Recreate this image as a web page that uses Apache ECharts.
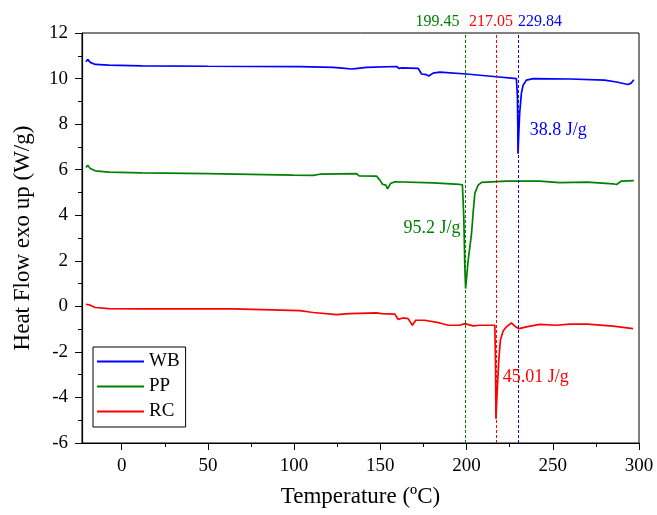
<!DOCTYPE html>
<html>
<head>
<meta charset="utf-8">
<script src="https://cdn.jsdelivr.net/npm/echarts@6/dist/echarts.min.js"></script>
<style>
  html, body { margin: 0; padding: 0; background: #fff; }
  #dsc-chart { width: 657px; height: 515px; }
</style>
</head>
<body>
<div id="dsc-chart"></div>
<script>
// DSC curves, [temperature, heat flow]
let wbData = [[-20.7,10.74],[-19.7,10.84],[-18.2,10.71],[-15.3,10.62],[-7.5,10.59],[11.8,10.56],[50,10.54],[103.4,10.52],[122.6,10.49],[128,10.46],[133.3,10.42],[137,10.45],[142,10.49],[159.4,10.53],[160.9,10.44],[162.3,10.47],[171.9,10.45],[173.9,10.2],[176.8,10.17],[178.1,10.11],[180.6,10.24],[184.5,10.28],[199.9,10.2],[217.3,10.08],[228.9,10.0],[229.5,9.2],[229.7,8.0],[229.84,6.7],[230.3,7.6],[230.8,8.47],[231.8,9.35],[232.8,9.71],[234.7,9.93],[238.6,10.0],[260,9.98],[280,9.93],[287,9.85],[293.6,9.74],[295.5,9.8],[297,9.95]];
let ppData = [[-20.7,6.10],[-19.7,6.19],[-18.2,6.05],[-15.3,5.95],[-7.5,5.89],[11.8,5.86],[50,5.83],[99.4,5.76],[111,5.75],[115,5.80],[136.2,5.83],[137.7,5.73],[147.8,5.72],[149.7,5.54],[151.3,5.36],[153.2,5.32],[154.2,5.16],[155.9,5.39],[158.4,5.47],[180.6,5.42],[196,5.35],[197.6,5.33],[198.4,3.93],[199,1.73],[199.45,0.78],[200.9,2.0],[202.9,3.2],[203.8,4.09],[204.8,4.96],[206.7,5.32],[208.7,5.44],[223,5.5],[242.4,5.5],[254,5.43],[270,5.45],[285,5.38],[287,5.35],[289.8,5.5],[297,5.52]];
let rcData = [[-20.7,0.09],[-19.7,0.17],[-18.2,0.05],[-15.3,-0.05],[-7.5,-0.1],[11.8,-0.11],[64.6,-0.11],[103.4,-0.19],[109,-0.25],[111.1,-0.27],[124.6,-0.36],[132.3,-0.32],[147.8,-0.29],[148.8,-0.36],[150.7,-0.32],[158.4,-0.34],[160.3,-0.57],[163.2,-0.51],[166.1,-0.54],[168.6,-0.83],[170.5,-0.61],[175.7,-0.61],[184.5,-0.73],[189.3,-0.83],[196,-0.83],[199,-0.76],[203.8,-0.86],[207.7,-0.83],[216.4,-0.83],[216.8,-2.5],[217.05,-4.93],[217.7,-3.83],[218.7,-2.37],[219.6,-1.49],[221.2,-1.08],[223.1,-0.9],[226,-0.73],[228,-0.87],[230.5,-0.98],[234.7,-0.9],[242.4,-0.79],[252.1,-0.83],[260,-0.78],[270,-0.78],[285,-0.87],[296.5,-0.98]];

let seriesNames = ["WB", "PP", "RC"];
let seriesColors = ["#0000ff", "#008000", "#ff0000"];
let peakTemps = [229.84, 199.45, 217.05];
let enthalpyLabels = ["38.8 J/g", "95.2 J/g", "45.01 J/g"];
let enthalpyAnchors = [[236.7, 7.74], [196.5, 3.43], [221, -3.1]];

let xMajorTicks = [0, 50, 100, 150, 200, 250, 300];
let xMinorTicks = [25, 75, 125, 175, 225, 275];

(function () {
  let chartDom = document.getElementById("dsc-chart");
  let myChart = echarts.init(chartDom);
  let font = "Liberation Serif";
  let allData = [wbData, ppData, rcData];
  // label offsets so the three peak temperatures don't collide
  let peakOffsets = [[22, 0], [-28, 0], [-5, 0]];
  let labelPos = ["right", "left", "right"];

  let series = seriesNames.map(function (name, i) {
    return {
      name: name,
      type: "line",
      data: allData[i],
      showSymbol: false,
      symbol: "none",
      lineStyle: { width: 1.7, color: seriesColors[i] },
      itemStyle: { color: seriesColors[i] },
      z: 3,
      markLine: {
        silent: true,
        symbol: "none",
        animation: false,
        lineStyle: { type: [3, 2], width: 1, color: seriesColors[i] },
        label: {
          show: true,
          position: "end",
          distance: 3,
          offset: peakOffsets[i],
          formatter: String(peakTemps[i].toFixed(2)),
          color: seriesColors[i],
          fontFamily: font,
          fontSize: 16,
        },
        data: [{ xAxis: peakTemps[i] }],
      },
      markPoint: {
        silent: true,
        symbol: "circle",
        symbolSize: 0,
        animation: false,
        label: {
          show: true,
          position: labelPos[i],
          distance: 0,
          formatter: enthalpyLabels[i],
          color: seriesColors[i],
          fontFamily: font,
          fontSize: 18,
        },
        data: [{ coord: enthalpyAnchors[i] }],
      },
    };
  });

  let option = {
    animation: false,
    backgroundColor: "#fff",
    grid: {
      left: 82,
      right: 18,
      top: 33,
      bottom: 72,
      show: true,
      borderColor: "#000",
      borderWidth: 1,
    },
    legend: {
      orient: "vertical",
      left: 93,
      top: 347,
      data: seriesNames,
      icon: "rect",
      itemWidth: 47,
      itemHeight: 2,
      itemGap: 6,
      padding: [5, 6, 6, 4],
      borderColor: "#000",
      borderWidth: 1,
      textStyle: { color: "#000", fontFamily: font, fontSize: 19 },
    },
    xAxis: [
      {
        type: "value",
        min: -23,
        max: 300,
        name: "Temperature (ºC)",
        nameLocation: "middle",
        nameGap: 42,
        nameTextStyle: { color: "#000", fontFamily: font, fontSize: 23 },
        axisLine: { show: true, onZero: false, lineStyle: { color: "#000", width: 1.2 } },
        axisTick: { show: true, length: 7, customValues: xMajorTicks, lineStyle: { color: "#000" } },
        axisLabel: { customValues: xMajorTicks, color: "#000", fontFamily: font, fontSize: 19, margin: 14 },
        splitLine: { show: false },
      },
      {
        type: "value",
        min: -23,
        max: 300,
        position: "bottom",
        axisLine: { show: false, onZero: false },
        axisTick: { show: true, length: 4, customValues: xMinorTicks, lineStyle: { color: "#000" } },
        axisLabel: { show: false },
        splitLine: { show: false },
      },
    ],
    yAxis: {
      type: "value",
      min: -6,
      max: 12,
      interval: 2,
      name: "Heat Flow exo up (W/g)",
      nameLocation: "middle",
      nameGap: 48,
      nameTextStyle: { color: "#000", fontFamily: font, fontSize: 23 },
      axisLine: { show: true, onZero: false, lineStyle: { color: "#000", width: 1.2 } },
      axisTick: { show: true, length: 7, lineStyle: { color: "#000" } },
      minorTick: { show: true, splitNumber: 2, length: 4, lineStyle: { color: "#000" } },
      axisLabel: { color: "#000", fontFamily: font, fontSize: 19, margin: 14 },
      splitLine: { show: false },
    },
    series: series,
  };
  option && myChart.setOption(option);
})();
</script>
</body>
</html>
